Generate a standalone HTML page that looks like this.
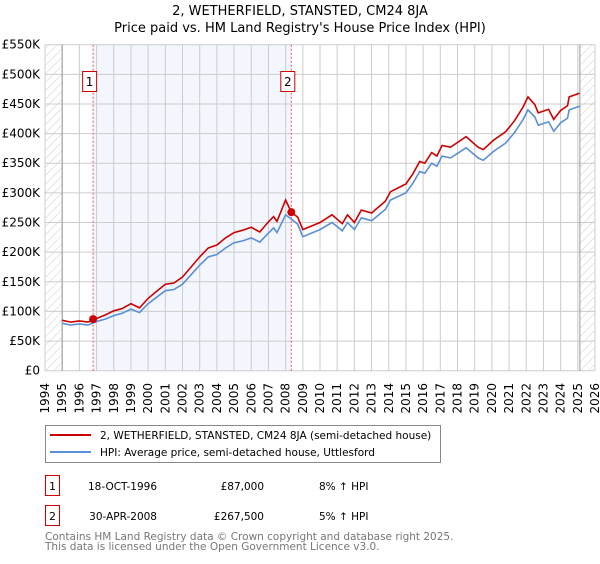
<!DOCTYPE html>
<html><head><meta charset="utf-8"><style>
body{margin:0;background:#fff;font-family:"DejaVu Sans","Liberation Sans",sans-serif;}
svg text{font-family:"DejaVu Sans","Liberation Sans",sans-serif;}
</style></head><body>
<svg id="chart" width="600" height="560" xmlns="http://www.w3.org/2000/svg">
<defs><pattern id="hatch" width="6" height="6" patternUnits="userSpaceOnUse" patternTransform="rotate(45)"><line x1="0" y1="0" x2="0" y2="6" stroke="#ccc" stroke-width="1"/></pattern></defs>
<text x="300" y="15" text-anchor="middle" font-size="13">2, WETHERFIELD, STANSTED, CM24 8JA</text>
<text x="300" y="32" text-anchor="middle" font-size="13">Price paid vs. HM Land Registry's House Price Index (HPI)</text>
<g id="plot"></g>
<g>
<rect x="45.5" y="425.5" width="395" height="37" fill="#fff" stroke="#888"/>
<line x1="50" y1="435" x2="91" y2="435" stroke="#cc0000" stroke-width="2"/>
<text x="100" y="439" font-size="10.5">2, WETHERFIELD, STANSTED, CM24 8JA (semi-detached house)</text>
<line x1="50" y1="452" x2="91" y2="452" stroke="#5b8fd6" stroke-width="2"/>
<text x="100" y="456" font-size="10.5">HPI: Average price, semi-detached house, Uttlesford</text>
</g>
<g>
<rect x="45.5" y="475.5" width="14" height="20" fill="#fff" stroke="#cc0000"/>
<text x="52.5" y="490" text-anchor="middle" font-size="11">1</text>
<text x="157" y="490" text-anchor="end" font-size="10.5">18-OCT-1996</text>
<text x="264" y="490" text-anchor="end" font-size="10.5">£87,000</text>
<text x="319" y="490" font-size="10.5">8% ↑ HPI</text>
<rect x="45.5" y="505.5" width="14" height="20" fill="#fff" stroke="#cc0000"/>
<text x="52.5" y="520" text-anchor="middle" font-size="11">2</text>
<text x="157" y="520" text-anchor="end" font-size="10.5">30-APR-2008</text>
<text x="264" y="520" text-anchor="end" font-size="10.5">£267,500</text>
<text x="319" y="520" font-size="10.5">5% ↑ HPI</text>
</g>
<text x="45" y="540" font-size="10.5" fill="#777">Contains HM Land Registry data © Crown copyright and database right 2025.</text>
<text x="45" y="550" font-size="10.5" fill="#777">This data is licensed under the Open Government Licence v3.0.</text>
</svg>
<script>
const years=[1995,1995.5,1996,1996.5,1997,1997.5,1998,1998.5,1999,1999.5,2000,2000.5,2001,2001.5,2002,2002.5,2003,2003.5,2004,2004.5,2005,2005.5,2006,2006.5,2007,2007.3,2007.5,2008,2008.33,2008.7,2009,2010,2010.7,2011.3,2011.6,2012,2012.4,2013,2013.8,2014.1,2015,2015.4,2015.8,2016.1,2016.5,2016.8,2017.1,2017.6,2018.5,2019.2,2019.5,2020.1,2020.8,2021.3,2021.8,2022.1,2022.5,2022.7,2023.3,2023.6,2024,2024.4,2024.5,2025.1];
const hpi=[80,77,79,77,83,87,93,97,104,98,113,124,135,137,146,162,178,192,196,207,216,219,224,217,232,241,233,263,256,247,226,238,250,236,250,238,258,253,272,288,300,316,336,333,350,345,362,359,376,359,355,370,384,401,423,440,428,414,420,404,418,426,440,446];
const price=[85,82,84,82,88,94,101,105,113,106,122,134,146,148,158,175,192,207,212,224,233,237,242,234,251,260,252,288,267.5,259,238,250,263,248,263,250,271,266,286,302,315,332,353,350,368,362,380,377,395,377,373,389,403,421,444,462,449,435,441,424,439,447,462,468];
const saleYears=[1996.8,2008.33];
const salePrices=[87,267.5];
const yTicks=[0,50,100,150,200,250,300,350,400,450,500,550];
const xTicks=[];for(let y=1994;y<=2026;y++)xTicks.push(y);
const X0=45,X1=595,Y0=370.7,Y1=44.7;
const xs=v=>X0+(v-1994)/32*(X1-X0);
const ys=v=>Y0-v/550*(Y0-Y1);
const NS="http://www.w3.org/2000/svg";
const g=document.getElementById('plot');
function mk(t,a){const e=document.createElementNS(NS,t);for(const k in a)e.setAttribute(k,a[k]);g.appendChild(e);return e;}
let e;
e=mk('rect',{x:xs(saleYears[0]),y:Y1,width:xs(saleYears[1])-xs(saleYears[0]),height:Y0-Y1,fill:'#f3f6fd'});


e=mk('rect',{x:X0,y:Y1,width:xs(1995)-X0,height:Y0-Y1,fill:'url(#hatch)'});


e=mk('rect',{x:xs(2025.12),y:Y1,width:X1-xs(2025.12),height:Y0-Y1,fill:'url(#hatch)'});


yTicks.forEach(v=>{
 e=mk('line',{x1:X0,x2:X1,y1:ys(v),y2:ys(v),stroke:'#ccc','stroke-width':1});
 
 
 e=mk('text',{x:40,y:ys(v)+4,'text-anchor':'end','font-size':12});
 e.textContent=v===0?'£0':'£'+v+'K';
 
 
});
xTicks.forEach(v=>{
 e=mk('line',{x1:xs(v),x2:xs(v),y1:Y1,y2:Y0,stroke:'#ccc','stroke-width':1});
 
 
 e=mk('text',{x:0,y:0,'text-anchor':'end','font-size':12,transform:`translate(${xs(v)+4},383) rotate(-90)`});
 e.textContent=v;
 
 
});
[1995,2025.12].forEach(v=>{e=mk('line',{x1:xs(v),x2:xs(v),y1:Y1,y2:Y0,stroke:'#999','stroke-width':1});
 
 });
saleYears.forEach((v,i)=>{
 e=mk('line',{x1:xs(v),x2:xs(v),y1:Y1,y2:Y0,stroke:'#e55','stroke-width':1,'stroke-dasharray':'2,2'});
 
 
 e=mk('rect',{x:xs(v)-10.5,y:71.5,width:14,height:20,fill:'#fff',stroke:'#cc0000'});
 
 
 e=mk('text',{x:xs(v)-3.5,y:86,'text-anchor':'middle','font-size':12});
 e.textContent=String(i+1);
 
 
});
const path=arr=>arr.map((v,i)=>(i?'L':'M')+xs(years[i]).toFixed(1)+','+ys(v).toFixed(1)).join('');
e=mk('path',{d:path(hpi),fill:'none',stroke:'#5b8fd6','stroke-width':1.6});


e=mk('path',{d:path(price),fill:'none',stroke:'#cc0000','stroke-width':1.6});


saleYears.forEach((v,i)=>{
 e=mk('circle',{cx:xs(v),cy:ys(salePrices[i]),r:4,fill:'#cc0000'});
 
 
});
</script>
</body></html>
